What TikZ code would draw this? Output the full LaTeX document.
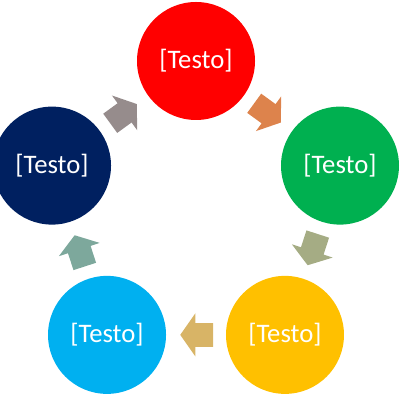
\documentclass[tikz,border=0pt]{standalone}
\usepackage{fontspec}
\setsansfont{Carlito}
\usepackage{tikz}
\usepackage{xcolor}
\usetikzlibrary{shapes.arrows, positioning, calc}
\definecolor{cRed}{RGB}{255,0,0}
\definecolor{cGreen}{RGB}{0,176,80}
\definecolor{cGold}{RGB}{255,192,0}
\definecolor{cSky}{RGB}{0,176,240}
\definecolor{cNavy}{RGB}{0,32,96}
\definecolor{cOrange}{RGB}{221,131,76}
\definecolor{cSage}{RGB}{165,172,132}
\definecolor{cTan}{RGB}{216,180,102}
\definecolor{cTeal}{RGB}{125,168,156}
\definecolor{cMauve}{RGB}{150,140,140}
\tikzset{
	stage/.style    ={circle, minimum size=2.95cm, inner sep=0pt, text=white, font=\sffamily\fontsize{19}{22.8}\selectfont},
	cyclearrow/.style={single arrow, draw=none, anchor=center, minimum height=0.82cm, inner xsep=0pt, inner ysep=0.29cm, single arrow head extend=0.24cm, single arrow tip angle=110},
}

\begin{document}
\begin{tikzpicture}
			\useasboundingbox (0,0) rectangle (10,10);
			\coordinate (o) at (4.9,4.69);
			\node[stage, fill=cRed]   (s1) at ($(o)+(90:3.785)$)  {[Testo]};
			\node[stage, fill=cGreen] (s2) at ($(o)+(18:3.785)$)  {[Testo]};
			\node[stage, fill=cGold]  (s3) at ($(o)+(-54:3.785)$) {[Testo]};
			\node[stage, fill=cSky]   (s4) at ($(o)+(234:3.785)$) {[Testo]};
			\node[stage, fill=cNavy]  (s5) at ($(o)+(162:3.785)$) {[Testo]};
			% arrows between the stages
			\node[cyclearrow, fill=cOrange, rotate=-36, xshift=-0.12cm]  (a1) at ($(s1)!0.5!(s2)$) {};
			\node[cyclearrow, fill=cSage, rotate=-108, xshift=-0.12cm]   (a2) at ($(s2)!0.5!(s3)$) {};
			\node[cyclearrow, fill=cTan, rotate=180, xshift=-0.12cm]     (a3) at ($(s3)!0.5!(s4)$) {};
			\node[cyclearrow, fill=cTeal, rotate=108, xshift=-0.12cm]    (a4) at ($(s4)!0.5!(s5)$) {};
			\node[cyclearrow, fill=cMauve, rotate=36, xshift=-0.12cm]    (a5) at ($(s5)!0.5!(s1)$) {};
		\end{tikzpicture}
\end{document}
